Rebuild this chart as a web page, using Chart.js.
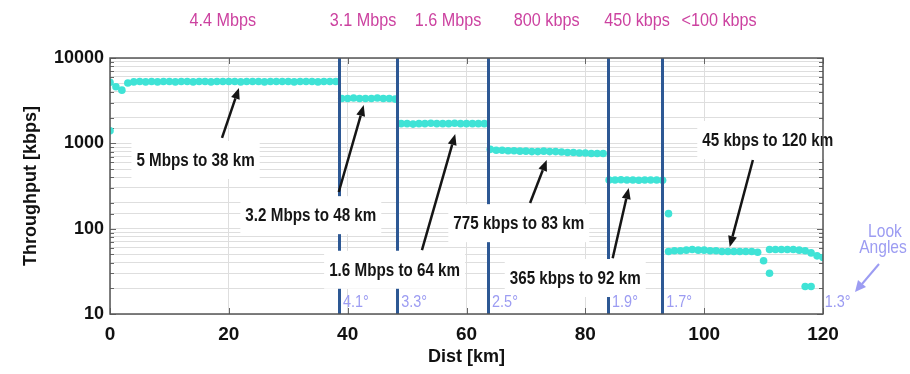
<!DOCTYPE html>
<html>
<head>
<meta charset="utf-8">
<script src="https://cdn.jsdelivr.net/npm/chart.js@4.4.0/dist/chart.umd.min.js"></script>
<style>
  html, body { margin: 0; padding: 0; background: #ffffff; }
  #wrap { width: 910px; height: 374px; position: relative; }
</style>
</head>
<body>
<div id="wrap"><canvas id="c" width="910" height="374"></canvas></div>
<script>
// ---- data ----
const distKm = [
  0, 0, 1, 2, 3, 4, 5, 6, 7, 8, 9, 10, 11, 12, 13, 14, 15, 16, 17, 18, 19, 20,
  21, 22, 23, 24, 25, 26, 27, 28, 29, 30, 31, 32, 33, 34, 35, 36, 37, 38,
  39, 40, 41, 42, 43, 44, 45, 46, 47, 48,
  49, 50, 51, 52, 53, 54, 55, 56, 57, 58, 59, 60, 61, 62, 63,
  64, 65, 66, 67, 68, 69, 70, 71, 72, 73, 74, 75, 76, 77, 78, 79, 80, 81, 82, 83,
  84, 85, 86, 87, 88, 89, 90, 91, 92, 93,
  94, 94, 95, 96, 97, 98, 99, 100, 101, 102, 103, 104, 105, 106, 107, 108, 109, 110,
  111, 111, 112, 113, 114, 115, 116, 117, 117, 118, 118, 119, 120
];
const throughputKbps = [
  5200, 1400, 4600, 4200, 5100, 5250, 5300, 5250, 5300, 5250, 5300, 5300, 5250, 5300, 5300, 5250, 5300, 5300, 5250, 5300, 5300, 5300,
  5300, 5250, 5300, 5300, 5300, 5250, 5300, 5300, 5300, 5300, 5250, 5300, 5300, 5300, 5250, 5300, 5300, 5300,
  3350, 3350, 3400, 3350, 3350, 3350, 3400, 3350, 3350, 3300,
  1700, 1700, 1680, 1700, 1700, 1720, 1700, 1700, 1700, 1720, 1700, 1700, 1700, 1700, 1700,
  850, 830, 830, 820, 820, 810, 810, 800, 800, 810, 800, 800, 790, 780, 780, 770, 770, 760, 760, 760,
  372, 372, 375, 372, 372, 370, 372, 372, 372, 370,
  150, 54, 55, 55, 56, 57, 56, 56, 55, 55, 54, 54, 54, 54, 54, 54, 53, 42,
  30, 57, 57, 57, 57, 57, 56, 55, 21, 52, 21, 48, 46
];
const xTicks = [0, 20, 40, 60, 80, 100, 120];
const yTickLabels = ['10', '100', '1000', '10000'];
const boundaryKm = [38.5, 48.3, 63.6, 83.8, 92.9];
const topRateLabels = ['4.4 Mbps', '3.1 Mbps', '1.6 Mbps', '800 kbps', '450 kbps', '<100 kbps'];
const topRateCenterKm = [19.0, 42.6, 56.9, 73.5, 88.7, 102.5];
const lookAngles = ['4.1°', '3.3°', '2.5°', '1.9°', '1.7°', '1.3°'];
const lookAngleKm = [39.2, 49.0, 64.3, 84.5, 93.6, 120.3];
// annotation: text, text centre (km, kbps), arrow tail (km, kbps), arrow head (km, kbps)
const noteTexts = ['5 Mbps to 38 km', '3.2 Mbps to 48 km', '1.6 Mbps to 64 km', '775 kbps to 83 km', '365 kbps to 92 km', '45 kbps to 120 km'];
const noteAt = [[14.4, 638], [33.8, 144], [47.9, 33], [68.8, 116], [78.3, 26.4], [110.7, 1094]];
const arrowTail = [[18.85, 1156], [38.5, 269], [52.5, 56], [70.7, 200], [84.6, 45], [108.2, 638]];
const arrowHead = [[21.7, 4460], [42.7, 2810], [58.1, 1285], [73.5, 638], [87.3, 300], [104.3, 61]];

const FONT = "'Liberation Sans', Arial, sans-serif";

function condensedText(ctx, t, cx, cy, sx) {
  ctx.save();
  ctx.translate(cx, cy);
  ctx.scale(sx, 1);
  ctx.fillText(t, 0, 0);
  ctx.restore();
}

const overlay = {
  id: 'overlay',
  beforeDatasetsDraw(chart) {
    const { ctx, chartArea: a, scales: { x, y } } = chart;
    ctx.save();
    // inward tick marks (left/right minor y, top/bottom x)
    ctx.strokeStyle = '#666666';
    ctx.lineWidth = 1;
    y.ticks.forEach(t => {
      const py = Math.round(y.getPixelForValue(t.value)) + 0.5;
      const major = yTickLabels.includes(String(t.value));
      const len = major ? 6 : 4;
      ctx.beginPath();
      ctx.moveTo(a.left, py); ctx.lineTo(a.left + len, py);
      ctx.moveTo(a.right, py); ctx.lineTo(a.right - len, py);
      ctx.stroke();
    });
    xTicks.forEach(v => {
      const px = Math.round(x.getPixelForValue(v)) + 0.5;
      ctx.beginPath();
      ctx.moveTo(px, a.top); ctx.lineTo(px, a.top + 6);
      ctx.moveTo(px, a.bottom); ctx.lineTo(px, a.bottom - 6);
      ctx.stroke();
    });
    ctx.restore();
  },
  afterDatasetsDraw(chart) {
    const { ctx, chartArea: a, scales: { x, y } } = chart;
    ctx.save();
    // boundary lines over the data
    ctx.strokeStyle = '#2d5894';
    ctx.lineWidth = 3;
    boundaryKm.forEach(k => {
      const px = Math.round(x.getPixelForValue(k)) + 0.5;
      ctx.beginPath(); ctx.moveTo(px, a.top); ctx.lineTo(px, a.bottom); ctx.stroke();
    });
    // annotation boxes and text
    ctx.font = "bold 19px " + FONT;
    ctx.textAlign = 'center';
    ctx.textBaseline = 'middle';
    const SX = 0.8;
    noteTexts.forEach((t, i) => {
      const cx = x.getPixelForValue(noteAt[i][0]);
      const cy = y.getPixelForValue(noteAt[i][1]);
      const w = ctx.measureText(t).width * SX;
      ctx.fillStyle = '#ffffff';
      ctx.fillRect(cx - w / 2 - 5, cy - 19, w + 10, 38);
      ctx.fillStyle = '#151515';
      condensedText(ctx, t, cx, cy + 1, SX);
    });
    // arrows
    ctx.strokeStyle = '#151515';
    ctx.fillStyle = '#151515';
    ctx.lineWidth = 2.5;
    arrowTail.forEach((tl, i) => {
      const x0 = x.getPixelForValue(tl[0]), y0 = y.getPixelForValue(tl[1]);
      const x1 = x.getPixelForValue(arrowHead[i][0]), y1 = y.getPixelForValue(arrowHead[i][1]);
      const ang = Math.atan2(y1 - y0, x1 - x0);
      const hl = 11, hw = 4.5;
      const bx = x1 - hl * Math.cos(ang), by = y1 - hl * Math.sin(ang);
      ctx.beginPath(); ctx.moveTo(x0, y0); ctx.lineTo(bx, by); ctx.stroke();
      ctx.beginPath();
      ctx.moveTo(x1, y1);
      ctx.lineTo(bx + hw * Math.sin(ang), by - hw * Math.cos(ang));
      ctx.lineTo(bx - hw * Math.sin(ang), by + hw * Math.cos(ang));
      ctx.closePath(); ctx.fill();
    });
    // look angle labels
    ctx.font = "17px " + FONT;
    ctx.fillStyle = '#9c9cf2';
    ctx.textAlign = 'left';
    lookAngles.forEach((t, i) => {
      const px = x.getPixelForValue(lookAngleKm[i]);
      condensedText(ctx, t, px, a.bottom - 12, 0.85);
    });
    ctx.textAlign = 'center';
    ctx.font = "19px " + FONT;
    condensedText(ctx, 'Look', 885, 232, 0.82);
    condensedText(ctx, 'Angles', 883, 248, 0.82);
    ctx.strokeStyle = '#9c9cf2';
    ctx.fillStyle = '#9c9cf2';
    ctx.lineWidth = 2;
    ctx.beginPath(); ctx.moveTo(879, 264); ctx.lineTo(862, 284); ctx.stroke();
    ctx.beginPath(); ctx.moveTo(855, 292); ctx.lineTo(858, 280); ctx.lineTo(866, 287); ctx.closePath(); ctx.fill();
    // top rate labels
    ctx.font = "18px " + FONT;
    ctx.fillStyle = '#cc42a0';
    topRateLabels.forEach((t, i) => {
      condensedText(ctx, t, x.getPixelForValue(topRateCenterKm[i]), 21, 0.9);
    });
    // axes box
    ctx.strokeStyle = '#555555';
    ctx.lineWidth = 1.5;
    ctx.strokeRect(a.left, a.top, a.right - a.left, a.bottom - a.top);
    ctx.restore();
  }
};

new Chart(document.getElementById('c'), {
  type: 'scatter',
  data: {
    datasets: [{
      data: distKm.map((d, i) => ({ x: d, y: throughputKbps[i] })),
      backgroundColor: '#3fe3d6',
      borderColor: '#3fe3d6',
      pointRadius: 3.8,
      pointBorderWidth: 0,
      showLine: false
    }]
  },
  options: {
    responsive: false,
    animation: false,
    events: [],
    layout: { padding: { left: 18, right: 87, top: 58, bottom: 4 } },
    plugins: { legend: { display: false }, tooltip: { enabled: false } },
    scales: {
      x: {
        type: 'linear', min: 0, max: 120,
        afterBuildTicks(s) { s.ticks = xTicks.map(v => ({ value: v })); },
        afterFit(s) { s.height = 56; },
        grid: { color: '#dedede', borderDash: [2, 2], drawTicks: false, lineWidth: 1 },
        border: { display: false },
        ticks: { color: '#111', font: { family: FONT, size: 19, weight: 'bold' }, padding: 9, maxRotation: 0, autoSkip: false },
        title: { display: true, text: 'Dist [km]', color: '#111', font: { family: FONT, size: 18, weight: 'bold' }, padding: { top: 0, bottom: 2 } }
      },
      y: {
        type: 'logarithmic', min: 10, max: 10000,
        afterFit(s) { s.width = 92; },
        grid: { color: '#dedede', borderDash: [2, 2], drawTicks: false, lineWidth: 1 },
        border: { display: false },
        ticks: {
          color: '#111', font: { family: FONT, size: 18, weight: 'bold' }, padding: 6, autoSkip: false,
          callback(v) { const s = String(v); return yTickLabels.includes(s) ? s : ''; }
        },
        title: { display: true, text: 'Throughput [kbps]', color: '#111', font: { family: FONT, size: 18, weight: 'bold' }, padding: { top: 2, bottom: 0 } }
      }
    }
  },
  plugins: [overlay]
});
</script>
</body>
</html>
